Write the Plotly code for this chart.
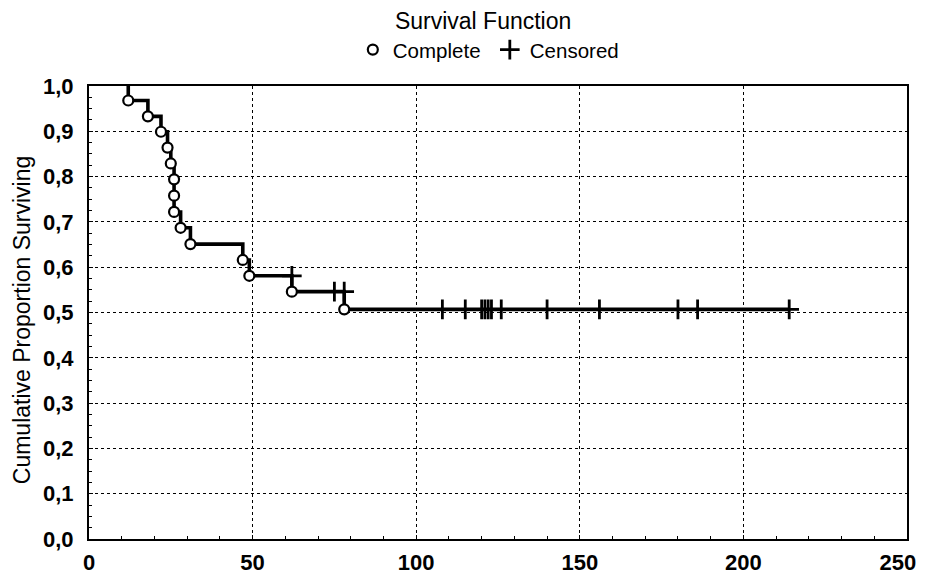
import plotly.graph_objects as go

# Complete (event) observations: time and cumulative proportion surviving
event_times = [12, 18, 22, 24, 25, 26, 26, 26, 28, 31, 47, 49, 62, 78]
event_surv = [0.968, 0.933, 0.899, 0.864, 0.829, 0.794, 0.758, 0.722,
              0.687, 0.651, 0.616, 0.581, 0.546, 0.507]

# Censored observations
cens_times = [62, 75, 78, 108, 115, 120, 121, 122, 123, 126, 140, 156, 180, 186, 214]
cens_surv = [0.581, 0.546, 0.546, 0.507, 0.507, 0.507, 0.507, 0.507, 0.507,
             0.507, 0.507, 0.507, 0.507, 0.507, 0.507]

x_ticks = [0, 50, 100, 150, 200, 250]
x_tick_labels = ["0", "50", "100", "150", "200", "250\u00a0\u00a0\u00a0"]
y_ticks = [0.0, 0.1, 0.2, 0.3, 0.4, 0.5, 0.6, 0.7, 0.8, 0.9, 1.0]

# step curve built from the observations
step_x = [event_times[0]] + event_times + [cens_times[-1]]
step_y = [1.0] + event_surv + [event_surv[-1]]

fig = go.Figure()
fig.add_trace(go.Scatter(
    x=step_x, y=step_y, mode="lines", line_shape="hv",
    line=dict(color="black", width=3.6), showlegend=False, hoverinfo="skip"))
fig.add_trace(go.Scatter(
    x=event_times, y=event_surv, mode="markers", name="Complete",
    marker=dict(symbol="circle", size=10, color="white",
                line=dict(color="black", width=2.2))))
fig.add_trace(go.Scatter(
    x=cens_times, y=cens_surv, mode="markers", name="Censored",
    marker=dict(symbol="cross-thin-open", size=14, color="black",
                line=dict(color="black", width=2.8))))

tick_font = dict(family="Liberation Sans", size=22, color="black", weight="bold")

fig.update_layout(
    width=919, height=569,
    paper_bgcolor="white", plot_bgcolor="white",
    separators=", ",
    margin=dict(l=81, r=20, t=78, b=38),
    font=dict(family="Liberation Sans", color="black"),
    title=dict(text="Survival Function", x=0.517, xanchor="center",
               y=1 - 13 / 569, yanchor="middle",
               font=dict(family="Liberation Sans", size=23, color="black")),
    legend=dict(orientation="h", x=0.49, xanchor="center", y=1.08, yanchor="middle",
                font=dict(family="Liberation Sans", size=20.5, color="black"),
                bgcolor="rgba(0,0,0,0)", itemwidth=30,
                entrywidth=92, entrywidthmode="pixels"),
    xaxis=dict(range=[0, 250], tickvals=x_ticks, ticktext=x_tick_labels,
               showgrid=True, gridcolor="black", griddash="dot", gridwidth=1.3,
               showline=True, linecolor="black", linewidth=2.2, mirror=True,
               ticks="inside", ticklen=4, tickcolor="black", automargin=False,
               minor=dict(dtick=10, ticks="inside", ticklen=3, tickcolor="black", showgrid=False),
               tickfont=tick_font, zeroline=False, ticklabelstandoff=2,
               ticklabeloverflow="allow"),
    yaxis=dict(range=[0, 1], tickvals=y_ticks, tickformat=".1f",
               showgrid=True, gridcolor="black", griddash="dot", gridwidth=1.3,
               showline=True, linecolor="black", linewidth=2.2, mirror=True,
               ticks="inside", ticklen=4, tickcolor="black", automargin=False,
               minor=dict(dtick=0.025, ticks="inside", ticklen=3, tickcolor="black", showgrid=False),
               tickfont=tick_font, zeroline=False, ticklabelstandoff=9),
    annotations=[dict(text="Cumulative Proportion Surviving", textangle=-90,
                      xref="paper", yref="paper", x=-0.082, y=0.485,
                      xanchor="center", yanchor="middle", showarrow=False,
                      font=dict(family="Liberation Sans", size=23, color="black"))],
)

fig.write_html("out.html")
